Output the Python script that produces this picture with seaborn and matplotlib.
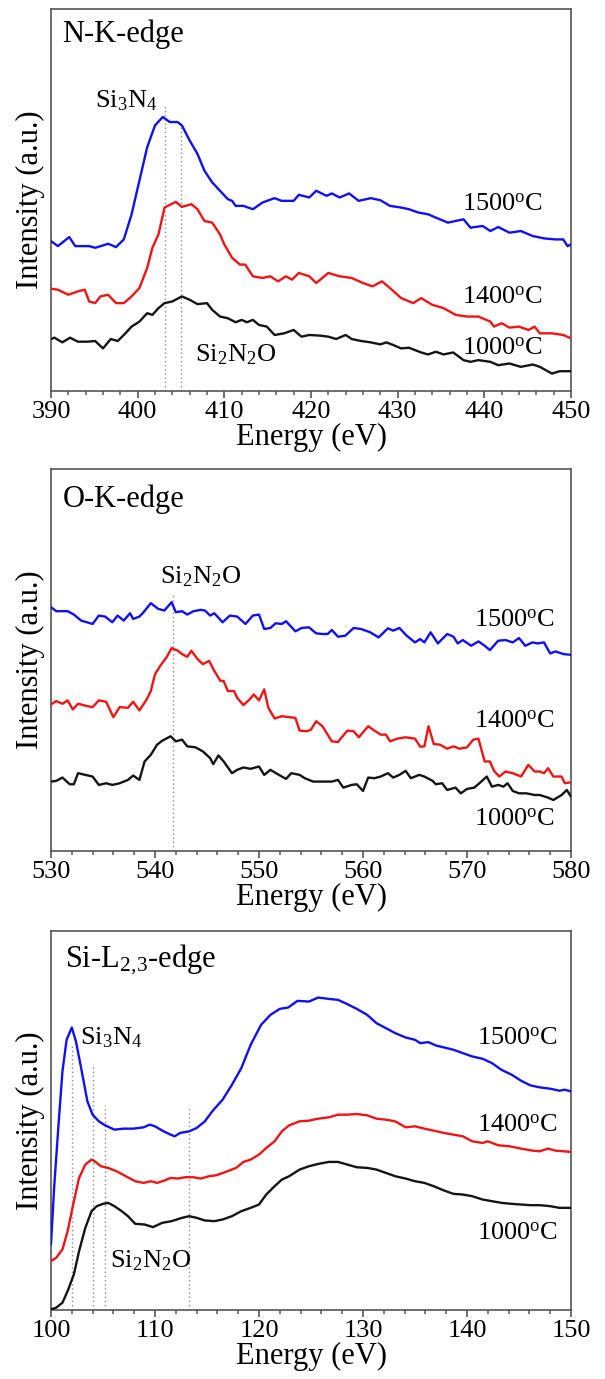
import matplotlib
matplotlib.use("Agg")
import matplotlib.pyplot as plt
from matplotlib.ticker import MultipleLocator
import numpy as np
import seaborn as sns

# ---------------- N K-edge ----------------
nk_e_1500 = [390.0, 390.8, 392.1, 392.8, 394.4, 395.1, 396.6, 397.5, 398.4, 399.3,
             400.2, 401.1, 402.0, 402.9, 403.7, 404.6, 405.1, 406.0, 406.9, 407.7,
             408.6, 409.5, 410.4, 410.9, 411.3, 412.2, 413.3, 414.4, 415.8, 416.6,
             418.0, 418.6, 419.8, 420.6, 421.8, 422.4, 423.3, 424.4, 425.5, 426.9,
             428.0, 429.1, 430.4, 431.3, 432.4, 433.5, 434.4, 435.8, 437.6, 438.4,
             439.8, 440.7, 441.6, 442.9, 444.2, 445.6, 446.9, 448.2, 449.1, 449.6, 450.0]
nk_i_1500 = [447, 432, 459, 432, 432, 427, 439, 429, 452, 527,
             627, 727, 792, 817, 802, 802, 792, 747, 707, 657,
             622, 597, 572, 567, 552, 552, 542, 562, 575, 567,
             567, 585, 577, 597, 582, 589, 577, 589, 567, 575,
             569, 552, 547, 542, 532, 527, 517, 502, 512, 487,
             492, 477, 489, 472, 477, 462, 455, 452, 452, 432, 437]

nk_e_1400 = [390.0, 390.8, 392.0, 393.1, 393.9, 394.4, 395.1, 395.7, 396.6, 397.5,
             398.4, 399.3, 400.2, 401.1, 401.7, 402.4, 403.1, 403.7, 404.4, 405.1,
             406.2, 406.9, 407.7, 408.6, 409.5, 410.0, 410.9, 411.8, 412.4, 413.3,
             414.4, 415.3, 416.2, 417.1, 417.8, 418.6, 419.8, 420.6, 422.0, 423.3,
             424.7, 426.0, 427.1, 428.2, 429.1, 430.4, 431.8, 432.7, 434.0, 435.3,
             436.7, 438.0, 439.3, 440.7, 441.1, 442.0, 442.9, 444.0, 445.1, 445.8,
             446.4, 447.8, 449.1, 450.0]
nk_i_1400 = [305, 302, 287, 297, 302, 267, 262, 282, 287, 262,
             262, 282, 307, 367, 427, 467, 547, 555, 564, 549,
             557, 542, 507, 502, 467, 437, 397, 377, 377, 342,
             337, 342, 327, 342, 332, 352, 342, 322, 352, 342,
             337, 322, 312, 327, 307, 277, 262, 277, 257, 247,
             227, 222, 222, 207, 192, 202, 189, 192, 182, 192,
             172, 172, 167, 157]

nk_e_1000 = [390.0, 390.4, 391.3, 392.2, 393.1, 394.2, 395.1, 396.0, 396.9, 397.7,
             398.4, 399.3, 400.2, 401.1, 401.7, 402.4, 403.1, 404.0, 405.1, 406.0,
             406.9, 408.0, 408.6, 409.5, 410.4, 411.3, 412.0, 412.6, 413.3, 414.0,
             414.9, 415.8, 416.9, 418.0, 418.9, 419.8, 421.1, 422.0, 422.9, 424.0,
             424.7, 425.8, 426.9, 428.0, 428.7, 429.5, 430.4, 431.3, 432.7, 433.5,
             434.4, 435.3, 436.4, 437.6, 438.4, 439.3, 440.7, 441.6, 442.9, 444.2,
             445.6, 446.4, 447.8, 448.7, 450.0]
nk_i_1000 = [155, 159, 145, 159, 147, 147, 149, 127, 155, 149,
             167, 192, 207, 232, 227, 247, 262, 267, 282, 272,
             259, 262, 242, 222, 217, 205, 212, 205, 212, 197,
             192, 167, 172, 182, 162, 167, 165, 162, 155, 167,
             155, 149, 145, 139, 145, 137, 127, 129, 115, 109,
             117, 109, 115, 92, 87, 92, 87, 77, 82, 72,
             79, 72, 52, 59, 59]

nk_marks = [403.2, 405.0]
nk_mark_tops = [857, 797]

# ---------------- O K-edge ----------------
ok_e_1500 = [530.0, 530.5, 531.6, 532.2, 532.9, 534.0, 534.6, 535.2, 535.9, 536.4,
             537.0, 537.6, 537.9, 538.5, 538.9, 539.6, 540.3, 540.9, 541.6, 542.0,
             542.6, 543.1, 543.7, 544.4, 544.8, 545.3, 545.7, 546.5, 547.2, 547.9,
             548.7, 549.4, 550.0, 550.5, 551.1, 551.6, 552.2, 552.6, 553.5, 554.1,
             554.8, 555.5, 556.1, 556.6, 557.0, 557.6, 558.3, 559.1, 559.8, 560.7,
             561.5, 562.4, 562.9, 563.5, 564.2, 565.0, 565.5, 565.9, 566.5, 567.2,
             568.1, 568.7, 569.1, 569.6, 570.4, 571.1, 571.7, 572.2, 573.0, 573.7,
             574.4, 575.0, 575.6, 576.3, 576.8, 577.4, 578.0, 578.5, 579.3, 580.0]
ok_i_1500 = [727, 715, 715, 705, 687, 677, 702, 699, 682, 702,
             687, 709, 692, 699, 712, 739, 722, 717, 742, 712,
             715, 705, 715, 719, 717, 702, 709, 682, 702, 699,
             677, 702, 705, 662, 665, 679, 677, 685, 655, 665,
             667, 649, 647, 647, 659, 639, 642, 665, 662, 652,
             637, 664, 657, 665, 642, 622, 632, 622, 652, 619,
             647, 639, 619, 629, 612, 625, 612, 599, 627, 629,
             622, 635, 612, 622, 619, 622, 589, 595, 587, 585]

ok_e_1400 = [530.0, 530.5, 531.1, 531.6, 532.1, 532.6, 533.5, 534.0, 534.6, 535.3,
             536.0, 536.6, 537.4, 537.9, 538.5, 539.2, 539.6, 540.0, 540.5, 541.1,
             541.6, 542.2, 542.6, 543.1, 543.5, 544.1, 544.6, 545.2, 545.7, 546.3,
             546.6, 547.0, 547.6, 547.9, 548.5, 549.1, 549.5, 550.0, 550.5, 550.9,
             551.5, 552.2, 552.9, 553.5, 553.9, 554.6, 555.0, 555.5, 556.1, 557.0,
             557.6, 557.9, 558.5, 559.1, 559.6, 560.5, 561.1, 561.7, 562.2, 562.6,
             563.3, 564.1, 565.0, 565.5, 565.9, 566.3, 566.8, 567.4, 568.1, 568.7,
             569.3, 570.0, 570.6, 571.1, 571.7, 572.2, 572.6, 573.1, 573.7, 574.4,
             575.2, 575.9, 576.5, 577.0, 577.4, 577.8, 578.3, 579.1, 579.4, 580.0]
ok_i_1400 = [437, 447, 439, 449, 422, 439, 432, 429, 449, 445,
             399, 429, 427, 445, 419, 452, 477, 527, 552, 577,
             605, 597, 587, 579, 597, 572, 557, 567, 537, 507,
             507, 477, 477, 457, 435, 452, 467, 449, 482, 427,
             395, 402, 399, 397, 359, 357, 362, 387, 372, 327,
             325, 337, 359, 357, 339, 372, 359, 347, 347, 327,
             335, 339, 335, 311, 312, 372, 319, 317, 305, 312,
             305, 309, 332, 335, 267, 267, 239, 222, 237, 232,
             222, 257, 237, 237, 232, 247, 222, 222, 202, 205]

ok_e_1000 = [530.0, 530.5, 531.1, 531.8, 532.2, 532.6, 533.3, 534.0, 534.6, 535.3,
             535.9, 536.6, 537.4, 537.9, 538.5, 539.0, 539.6, 540.2, 540.7, 541.5,
             542.0, 542.6, 543.1, 543.9, 544.6, 545.3, 545.6, 546.1, 546.6, 547.4,
             547.9, 548.5, 549.2, 550.0, 550.5, 551.1, 551.8, 552.6, 553.1, 553.9,
             554.4, 555.2, 555.9, 557.0, 557.6, 558.1, 558.9, 559.4, 560.0, 560.5,
             561.1, 561.7, 562.4, 562.9, 563.5, 564.1, 564.6, 565.4, 565.9, 566.7,
             567.0, 567.6, 568.1, 568.9, 569.4, 570.0, 570.7, 571.3, 571.9, 572.4,
             573.0, 573.5, 573.9, 574.4, 575.0, 575.7, 576.5, 577.0, 577.8, 578.3,
             579.1, 579.6, 580.0]
ok_i_1000 = [207, 209, 219, 199, 199, 232, 227, 222, 197, 202,
             197, 202, 212, 225, 212, 267, 287, 317, 329, 342,
             327, 332, 312, 309, 297, 277, 259, 285, 267, 232,
             242, 249, 245, 252, 227, 242, 229, 215, 232, 227,
             217, 207, 207, 207, 212, 189, 197, 199, 179, 219,
             217, 222, 232, 219, 227, 239, 217, 227, 222, 209,
             199, 202, 182, 189, 172, 185, 189, 205, 222, 192,
             197, 192, 202, 179, 172, 172, 167, 167, 159, 152,
             167, 182, 162]

ok_marks = [541.7]
ok_mark_tops = [762]

# ---------------- Si L2,3-edge ----------------
sl_e_1500 = [100.0, 100.3, 100.7, 101.1, 101.5, 102.0, 102.4, 102.9, 103.5, 104.0,
             104.6, 105.2, 106.1, 107.0, 107.9, 108.9, 109.5, 110.0, 110.7, 111.5,
             111.9, 112.4, 113.3, 114.0, 114.8, 115.5, 116.5, 117.4, 118.3, 119.2,
             120.2, 121.1, 122.0, 122.8, 123.7, 124.8, 125.7, 126.7, 127.6, 128.5,
             129.4, 130.4, 131.3, 132.2, 133.1, 134.1, 135.0, 135.5, 136.3, 137.0,
             137.8, 138.7, 139.6, 140.5, 141.5, 142.4, 143.3, 144.3, 145.2, 146.1,
             147.0, 148.0, 148.9, 149.4, 150.0]
sl_i_1500 = [197, 367, 547, 717, 812, 849, 807, 727, 627, 587,
             567, 555, 542, 545, 545, 549, 557, 552, 539, 527,
             522, 532, 537, 547, 567, 597, 632, 677, 727, 797,
             857, 887, 905, 909, 929, 927, 939, 935, 932, 919,
             905, 887, 862, 847, 832, 819, 812, 802, 805, 795,
             789, 782, 772, 762, 755, 742, 722, 707, 689, 675,
             669, 665, 659, 662, 657]

sl_e_1400 = [100.0, 100.5, 101.1, 101.6, 102.2, 102.7, 103.3, 103.9, 104.2, 104.8,
             105.5, 106.3, 107.2, 108.1, 108.9, 109.6, 110.2, 110.9, 111.5, 112.2,
             112.9, 113.7, 114.4, 115.2, 115.9, 116.8, 117.8, 118.5, 119.2, 120.0,
             120.7, 121.5, 122.2, 122.9, 123.9, 124.8, 125.7, 126.7, 127.6, 128.5,
             129.4, 130.4, 131.3, 132.2, 133.1, 134.1, 135.0, 135.9, 136.8, 137.8,
             138.7, 139.6, 140.5, 141.5, 142.0, 143.0, 144.1, 145.2, 146.3, 147.0,
             147.8, 148.5, 149.3, 150.0]
sl_i_1400 = [147, 157, 182, 237, 327, 397, 437, 452, 447, 432,
             427, 417, 402, 387, 382, 387, 382, 389, 397, 395,
             399, 399, 395, 402, 405, 415, 427, 445, 452, 467,
             487, 507, 537, 555, 567, 569, 575, 579, 587, 587,
             589, 585, 575, 572, 567, 549, 552, 545, 539, 532,
             527, 522, 507, 502, 507, 495, 492, 485, 479, 477,
             485, 479, 477, 475]

sl_e_1000 = [100.0, 100.5, 101.1, 101.6, 102.2, 102.7, 103.3, 103.9, 104.4, 105.0,
             105.5, 106.1, 106.8, 107.4, 108.1, 109.0, 109.8, 110.7, 111.6, 112.6,
             113.3, 114.0, 114.8, 115.7, 116.5, 117.4, 118.3, 119.2, 120.0, 120.7,
             121.5, 122.2, 122.9, 123.9, 124.8, 125.7, 126.7, 127.6, 128.5, 129.4,
             130.4, 131.3, 132.2, 133.1, 134.1, 135.0, 135.9, 136.8, 137.8, 138.7,
             139.6, 140.5, 141.5, 142.4, 143.3, 144.3, 145.2, 146.1, 147.0, 148.0,
             148.9, 150.0]
sl_i_1000 = [2, 7, 22, 57, 107, 177, 247, 297, 312, 319,
             322, 312, 297, 282, 259, 257, 249, 262, 267, 277,
             282, 277, 269, 267, 272, 282, 297, 307, 317, 347,
             372, 392, 402, 422, 432, 439, 445, 445, 437, 429,
             427, 422, 412, 402, 395, 387, 382, 372, 359, 349,
             347, 342, 332, 327, 322, 319, 317, 315, 315, 312,
             307, 307]

sl_marks = [102.0, 104.0, 105.15, 113.3]
sl_mark_tops = [798, 732, 617, 612]

temperatures = ["1500", "1400", "1000"]
colors = {"1500": "#1010f2", "1400": "#f01414", "1000": "#141414"}

# ---------------- style ----------------
sns.set_theme(style="ticks")
frame_col = "#555555"
plt.rcParams.update({
    "font.family": ["Liberation Serif", "DejaVu Serif"],
    "mathtext.fontset": "custom",
    "mathtext.rm": "Liberation Serif",
    "mathtext.it": "Liberation Serif:italic",
    "mathtext.bf": "Liberation Serif:bold",
    "axes.edgecolor": frame_col,
    "axes.linewidth": 1.2,
    "xtick.color": frame_col,
    "xtick.labelcolor": "black",
    "text.color": "black",
    "axes.labelcolor": "black",
})

fig = plt.figure(figsize=(6.05, 13.79), dpi=100)
fig.patch.set_facecolor("white")

left, width = 51 / 605, 520 / 605
rects = [
    [left, 1 - 391 / 1379, width, 382 / 1379],
    [left, 1 - 851 / 1379, width, 382 / 1379],
    [left, 1 - 1310 / 1379, width, 379 / 1379],
]

panels = [
    dict(title="N-K-edge", xlim=(390, 450),
         series={"1500": (nk_e_1500, nk_i_1500), "1400": (nk_e_1400, nk_i_1400),
                 "1000": (nk_e_1000, nk_i_1000)},
         marks=(nk_marks, nk_mark_tops),
         title_xy=(391.3, 1042), temp_x=446.8, temp_y=[539, 262, 109],
         notes=[(395.1, 845, r"Si$_3$N$_4$"), (406.6, 87, r"Si$_2$N$_2$O")]),
    dict(title="O-K-edge", xlim=(530, 580),
         series={"1500": (ok_e_1500, ok_i_1500), "1400": (ok_e_1400, ok_i_1400),
                 "1000": (ok_e_1000, ok_i_1000)},
         marks=(ok_marks, ok_mark_tops),
         title_xy=(531.1, 1027), temp_x=578.5, temp_y=[670, 367, 75],
         notes=[(540.5, 797, r"Si$_2$N$_2$O")]),
    dict(title=r"Si-L$_{2,\!3}$-edge", xlim=(100, 150),
         series={"1500": (sl_e_1500, sl_i_1500), "1400": (sl_e_1400, sl_i_1400),
                 "1000": (sl_e_1000, sl_i_1000)},
         marks=(sl_marks, sl_mark_tops),
         title_xy=(101.3, 1032), temp_x=148.7, temp_y=[797, 535, 212],
         notes=[(102.8, 797, r"Si$_3$N$_4$"), (105.7, 127, r"Si$_2$N$_2$O")]),
]

for rect, p in zip(rects, panels):
    ax = fig.add_axes(rect)
    ax.set_facecolor("white")
    marks, tops = p["marks"]
    ax.vlines(marks, 0, tops, colors="#8a8a8a", linestyles=(0, (1, 2)), linewidth=1.0, zorder=1)
    for t in temperatures:
        e, i = p["series"][t]
        sns.lineplot(x=np.array(e), y=np.array(i), ax=ax, color=colors[t],
                     linewidth=1.7, sort=False, estimator=None, legend=False, zorder=3)
    ax.set_xlim(*p["xlim"])
    ax.set_ylim(0, 1139)
    ax.set_yticks([])
    ax.xaxis.set_major_locator(MultipleLocator(10))
    ax.xaxis.set_minor_locator(MultipleLocator(2))
    ax.tick_params(axis="x", which="major", direction="out", length=5, width=1.2,
                   labelsize=19, pad=2)
    ax.tick_params(axis="x", which="minor", direction="out", length=3, width=1.1)
    for s in ax.spines.values():
        s.set_visible(True)
        s.set_color(frame_col)
    ax.set_xlabel("Energy (eV)", fontsize=22, labelpad=0)
    ax.set_ylabel("Intensity (a.u.)", fontsize=22, labelpad=4)

    ax.text(*p["title_xy"], p["title"], fontsize=22, ha="left", va="baseline")
    for t, ty in zip(temperatures, p["temp_y"]):
        ax.text(p["temp_x"], ty, t + r"$^{\rm o}$C", fontsize=19, ha="right", va="baseline")
    for nx, ny, s in p["notes"]:
        ax.text(nx, ny, s, fontsize=19, ha="left", va="baseline")

fig.savefig("out.png", dpi=100, facecolor="white")
